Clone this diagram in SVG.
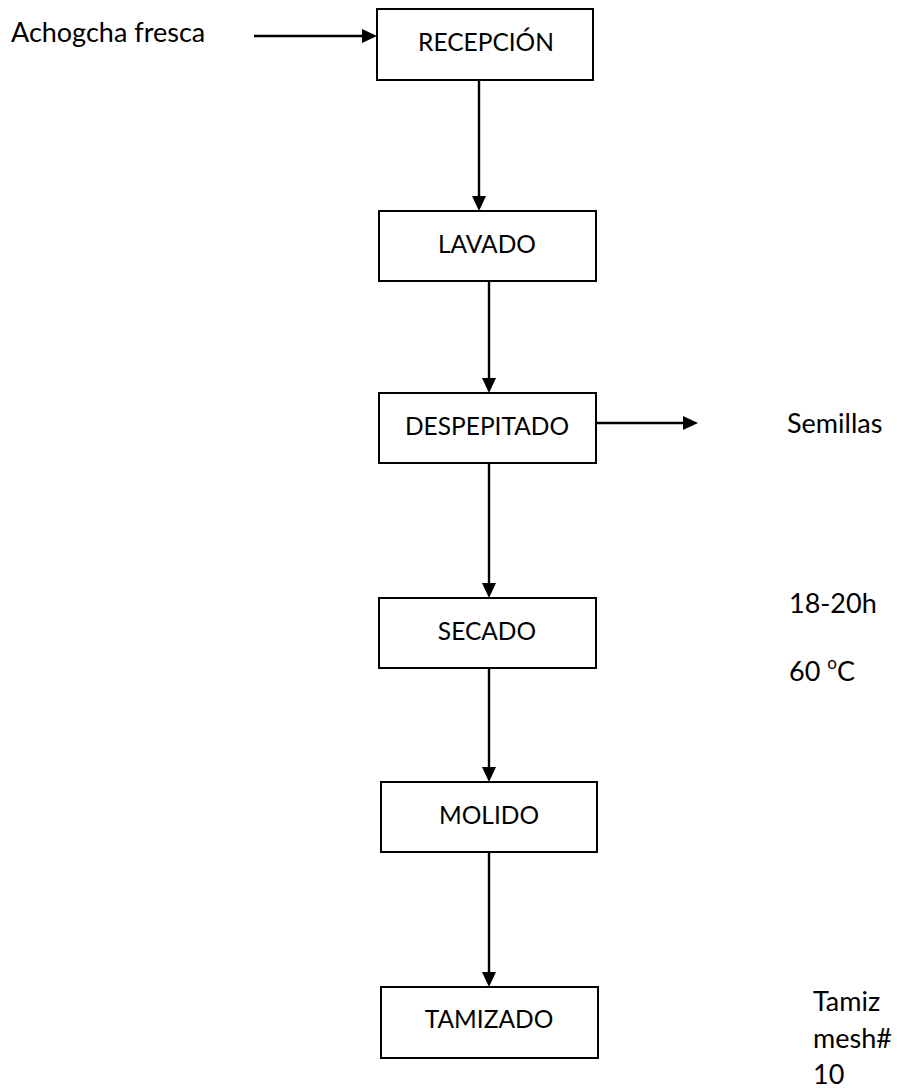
<svg xmlns="http://www.w3.org/2000/svg" width="897" height="1089" viewBox="0 0 897 1089">
  <style>
    .box { fill: #ffffff; stroke: #000000; stroke-width: 2; }
    .lbl { font-family: Lato, "Open Sans", "Liberation Sans", sans-serif; font-size: 24.5px; fill: #000000; }
    .side { font-size: 27px; }
    .mid { text-anchor: middle; }
    .flow { fill: none; stroke: #000000; stroke-width: 2.4; marker-end: url(#arrow); }
  </style>
  <defs>
    <marker id="arrow" markerUnits="userSpaceOnUse" viewBox="0 0 15 14" markerWidth="15" markerHeight="14" refX="11" refY="7" orient="auto">
      <path d="M0,0 L15,7 L0,14 Z" fill="#000000"/>
    </marker>
  </defs>
  <rect width="897" height="1089" fill="#ffffff"/>

  <!-- connectors -->
  <g id="connectors">
    <line class="flow" x1="254" y1="36" x2="373" y2="36"/>
    <line class="flow" x1="479" y1="80" x2="479" y2="207"/>
    <line class="flow" x1="489" y1="281" x2="489" y2="389"/>
    <line class="flow" x1="596" y1="423" x2="694" y2="423"/>
    <line class="flow" x1="489" y1="463" x2="489" y2="594"/>
    <line class="flow" x1="489" y1="668" x2="489" y2="778"/>
    <line class="flow" x1="489" y1="852" x2="489" y2="983"/>
  </g>

  <!-- process steps -->
  <g id="recepcion">
    <rect class="box" x="377" y="9" width="216" height="71"/>
    <text class="lbl mid" x="486" y="51">RECEPCIÓN</text>
  </g>
  <g id="lavado">
    <rect class="box" x="379" y="211" width="217" height="70"/>
    <text class="lbl mid" x="487" y="253">LAVADO</text>
  </g>
  <g id="despepitado">
    <rect class="box" x="379" y="393" width="217" height="70"/>
    <text class="lbl mid" x="487" y="435">DESPEPITADO</text>
  </g>
  <g id="secado">
    <rect class="box" x="379" y="598" width="217" height="70"/>
    <text class="lbl mid" x="487" y="640">SECADO</text>
  </g>
  <g id="molido">
    <rect class="box" x="381" y="782" width="216" height="70"/>
    <text class="lbl mid" x="489" y="824">MOLIDO</text>
  </g>
  <g id="tamizado">
    <rect class="box" x="381" y="987" width="217" height="71"/>
    <text class="lbl mid" x="489" y="1028">TAMIZADO</text>
  </g>

  <!-- inputs, outputs and conditions -->
  <g id="entrada">
    <text class="lbl side" x="11" y="42">Achogcha fresca</text>
  </g>
  <g id="semillas">
    <text class="lbl side" x="787" y="433">Semillas</text>
  </g>
  <g id="condiciones-secado">
    <text class="lbl side" x="789" y="613">18-20h</text>
    <text class="lbl side" x="789" y="681">60 <tspan font-size="17" dy="-12">o</tspan><tspan dy="12">C</tspan></text>
  </g>
  <g id="condiciones-tamizado">
    <text class="lbl side" x="813" y="1011">Tamiz</text>
    <text class="lbl side" x="813" y="1048">mesh#</text>
    <text class="lbl side" x="813" y="1084">10</text>
  </g>
</svg>
